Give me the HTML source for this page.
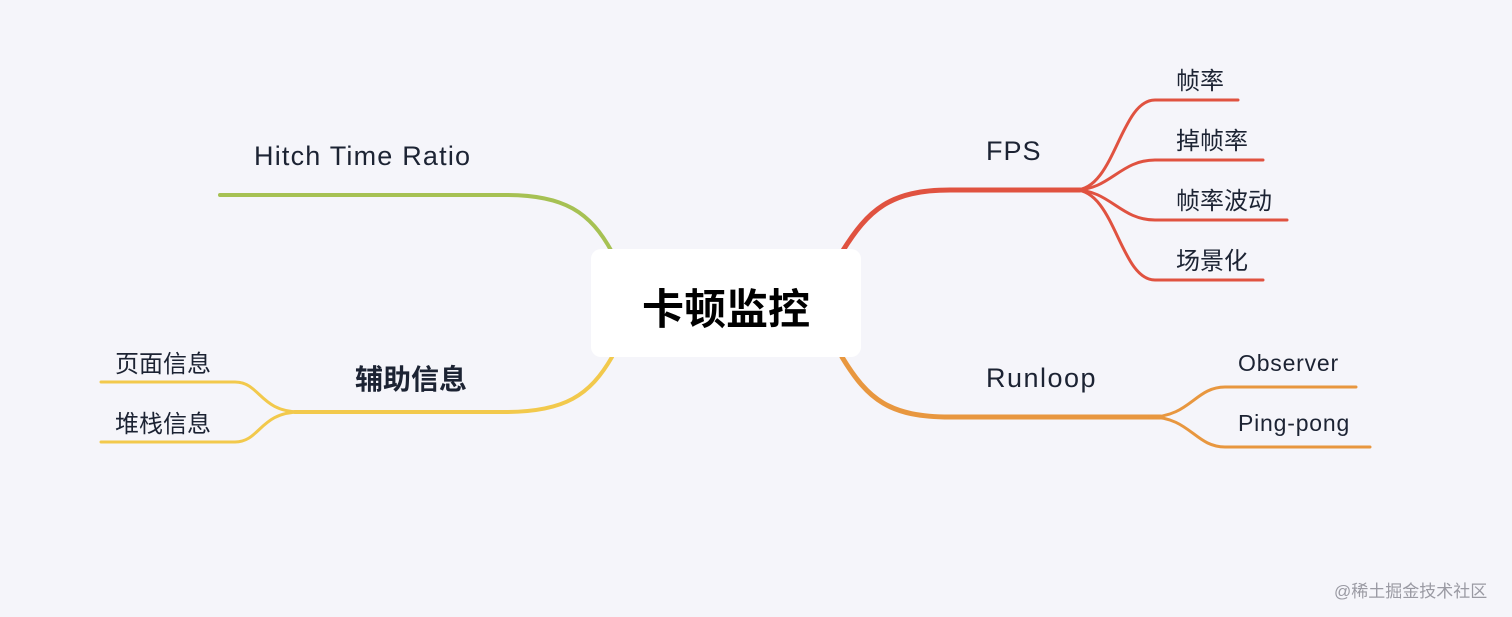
<!DOCTYPE html>
<html><head><meta charset="utf-8"><style>
body{margin:0;background:#f5f5fa;width:1512px;height:617px;overflow:hidden;position:relative;font-family:"Liberation Sans","Noto Sans CJK SC",sans-serif;}
.t{position:absolute;color:#1c2333;font-size:22px;white-space:nowrap;}
.s{font-size:24px;}
.e{font-size:23px;letter-spacing:0.8px;}
</style></head><body>
<svg width="1512" height="617" style="position:absolute;left:0;top:0" fill="none" stroke-linecap="round">
<path d="M842,252 C868,210 890,190 950,190 L1080,190" stroke="#e05240" stroke-width="5"/>
<g stroke="#e05240" stroke-width="3">
<path d="M1075,190 C1115,190 1120,100 1155,100 L1238,100"/>
<path d="M1075,190 C1110,190 1120,160 1155,160 L1263,160"/>
<path d="M1075,190 C1110,190 1120,220 1155,220 L1287,220"/>
<path d="M1075,190 C1115,190 1120,280 1155,280 L1263,280"/>
</g>
<path d="M842,357 C868,400 890,417 950,417 L1160,417" stroke="#e8973f" stroke-width="5"/>
<g stroke="#e8973f" stroke-width="3">
<path d="M1150,417 C1190,417 1195,387 1225,387 L1356,387"/>
<path d="M1150,417 C1190,417 1195,447 1225,447 L1370,447"/>
</g>
<path d="M612,252 C590,212 565,195 505,195 L220,195" stroke="#a6c153" stroke-width="4"/>
<path d="M612,357 C590,395 565,412 505,412 L295,412" stroke="#f2c94c" stroke-width="4"/>
<g stroke="#f2c94c" stroke-width="3">
<path d="M300,412 C260,412 260,382 235,382 L101,382"/>
<path d="M300,412 C260,412 260,442 235,442 L101,442"/>
</g>
</svg>
<div style="position:absolute;left:591px;top:249px;width:270px;height:108px;background:#fff;border-radius:10px;"></div>
<div class="t" style="left:591px;top:276px;width:270px;text-align:center;font-size:42px;font-weight:bold;color:#000">卡顿监控</div>
<div class="t" style="left:986px;top:136px;font-size:27px;letter-spacing:1px">FPS</div>
<div class="t" style="left:986px;top:363px;font-size:27px;letter-spacing:1.5px">Runloop</div>
<div class="t" style="left:254px;top:141px;font-size:27px;letter-spacing:1.2px">Hitch Time Ratio</div>
<div class="t" style="left:355px;top:358px;font-size:28px;font-weight:bold">辅助信息</div>
<div class="t s" style="left:1176px;top:61px">帧率</div>
<div class="t s" style="left:1176px;top:121px">掉帧率</div>
<div class="t s" style="left:1176px;top:181px">帧率波动</div>
<div class="t s" style="left:1176px;top:241px">场景化</div>
<div class="t e" style="left:1238px;top:350px">Observer</div>
<div class="t e" style="left:1238px;top:410px">Ping-pong</div>
<div class="t s" style="left:115px;top:344px">页面信息</div>
<div class="t s" style="left:115px;top:404px">堆栈信息</div>
<div class="t" style="left:1334px;top:577px;font-size:17px;color:#9a9aa3">@稀土掘金技术社区</div>
</body></html>
